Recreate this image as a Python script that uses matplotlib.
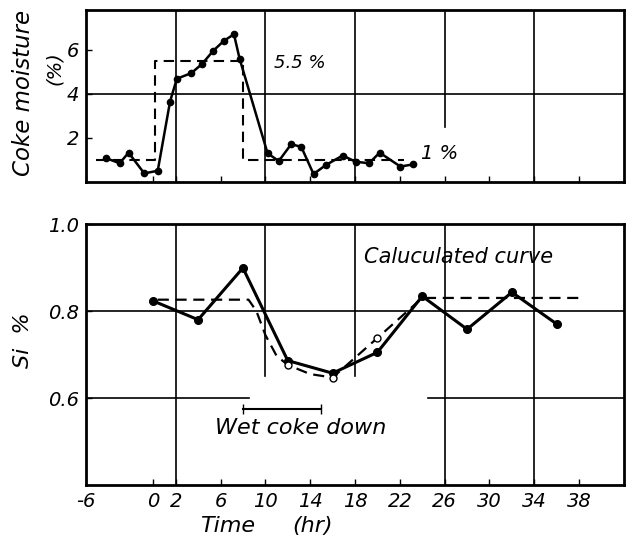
import matplotlib
matplotlib.use("Agg")
import matplotlib.pyplot as plt

plt.rcParams['font.family'] = ['DejaVu Sans']
plt.rcParams['font.style'] = 'italic'

# ---- data: coke moisture (top) ----
moist_t = [-4.2, -3.0, -2.2, -0.8, 0.4, 1.5, 2.1, 3.4, 4.35, 5.35, 6.3, 7.2, 7.7,
           10.2, 11.2, 12.3, 13.2, 14.3, 15.4, 16.9, 18.05, 19.25, 20.2, 22.05, 23.2]
moist = [1.08, 0.85, 1.33, 0.39, 0.51, 3.65, 4.68, 4.94, 5.35, 5.95, 6.4, 6.7, 5.6,
         1.3, 0.95, 1.71, 1.6, 0.36, 0.77, 1.2, 0.92, 0.85, 1.33, 0.7, 0.8]
step_t = [-5.1, 0.2, 0.2, 8.0, 8.0, 22.4]
step_v = [1.0, 1.0, 5.5, 5.5, 1.0, 1.0]

# ---- data: Si (bottom) ----
si_t = [0, 4, 8, 12, 16, 20, 24, 28, 32, 36]
si = [0.823, 0.780, 0.899, 0.686, 0.657, 0.705, 0.834, 0.758, 0.843, 0.770]
calc_t = [0.4, 8.5, 9.2, 10.0, 11.0, 12.0, 14.0, 16.0, 20.0, 24.0, 38.0]
calc = [0.826, 0.826, 0.80, 0.745, 0.697, 0.676, 0.655, 0.647, 0.738, 0.83, 0.83]
open_t = [12, 16, 20]
open_v = [0.676, 0.647, 0.738]
wet_t = [8.0, 15.0]
wet_v = 0.575

xticks = [-6, 0, 2, 6, 10, 14, 18, 22, 26, 30, 34, 38]
xticklabels = ['-6', '0', '2', '6', '10', '14', '18', '22', '26', '30', '34', '38']
top_yticks = [2, 4, 6]
bot_yticks = [0.6, 0.8, 1.0]
bot_yticklabels = ['0.6', '0.8', '1.0']

W, H = 631, 539
fig = plt.figure(figsize=(W / 100, H / 100), dpi=100)
ax1 = fig.add_axes([86 / W, 1 - 182 / H, 538 / W, 172 / H])
ax2 = fig.add_axes([86 / W, 1 - 485 / H, 538 / W, 261 / H])

for ax in (ax1, ax2):
    ax.set_xlim(-6, 42)
    for s in ax.spines.values():
        s.set_linewidth(2.0)
    ax.set_xticks(xticks)
    ax.tick_params(direction='in', length=4, width=1.0, labelsize=14, pad=5)

# top panel
ax1.set_ylim(0, 7.8)
ax1.set_yticks(top_yticks)
ax1.set_xticklabels([])
for x in [2, 10, 18, 34]:
    ax1.axvline(x, color='black', lw=1.2, zorder=1)
ax1.axvline(26, ymin=2.5 / 7.8, ymax=1, color='black', lw=1.2, zorder=1)
ax1.axhline(4, color='black', lw=1.2, zorder=1)
ax1.plot(step_t, step_v, color='black', lw=1.5, ls=(0, (5, 3)), zorder=2)
ax1.plot(moist_t, moist, color='black', lw=1.8, marker='o', ms=4.5, zorder=3)
ax1.text(10.8, 5.4, '5.5 %', fontsize=13, ha='left', va='center')
ax1.text(23.9, 1.3, '1 %', fontsize=14, ha='left', va='center')
fig.text(24 / W, 1 - 93 / H, 'Coke moisture', rotation=90, fontsize=16.5,
         ha='center', va='center')
fig.text(55 / W, 1 - 68 / H, '(%)', rotation=90, fontsize=14,
         ha='center', va='center')

# bottom panel
ax2.set_ylim(0.4, 1.0)
ax2.set_yticks(bot_yticks)
ax2.set_yticklabels(bot_yticklabels)
ax2.set_xticklabels(xticklabels)
for x in [2, 26, 34]:
    ax2.axvline(x, color='black', lw=1.2, zorder=1)
for x in [10, 18]:
    ax2.axvline(x, ymin=(0.65 - 0.4) / 0.6, ymax=1, color='black', lw=1.2, zorder=1)
ax2.axhline(0.8, color='black', lw=1.2, zorder=1)
ax2.axhline(0.6, xmin=0, xmax=(8.5 + 6) / 48, color='black', lw=1.2, zorder=1)
ax2.axhline(0.6, xmin=(24.5 + 6) / 48, xmax=1, color='black', lw=1.2, zorder=1)
ax2.plot(calc_t, calc, color='black', lw=1.6, ls=(0, (5, 3)), zorder=2)
ax2.plot(si_t, si, color='black', lw=2.2, marker='o', ms=5.5, zorder=3)
ax2.plot(open_t, open_v, ls='none', marker='o', ms=5, mfc='white',
         mec='black', mew=1.0, zorder=4)
ax2.plot(wet_t, [wet_v, wet_v], color='black', lw=1.5, marker='|', ms=7, zorder=3)
ax2.text(5.5, 0.532, 'Wet coke down', fontsize=16, ha='left', va='center')
ax2.text(18.8, 0.925, 'Caluculated curve', fontsize=15, ha='left', va='center')
fig.text(228 / W, 1 - 526 / H, 'Time', fontsize=16, ha='center', va='center')
fig.text(313 / W, 1 - 526 / H, '(hr)', fontsize=16, ha='center', va='center')
fig.text(23 / W, 1 - 340 / H, 'Si  %', rotation=90, fontsize=16,
         ha='center', va='center')

fig.savefig('out.png', dpi=100)
